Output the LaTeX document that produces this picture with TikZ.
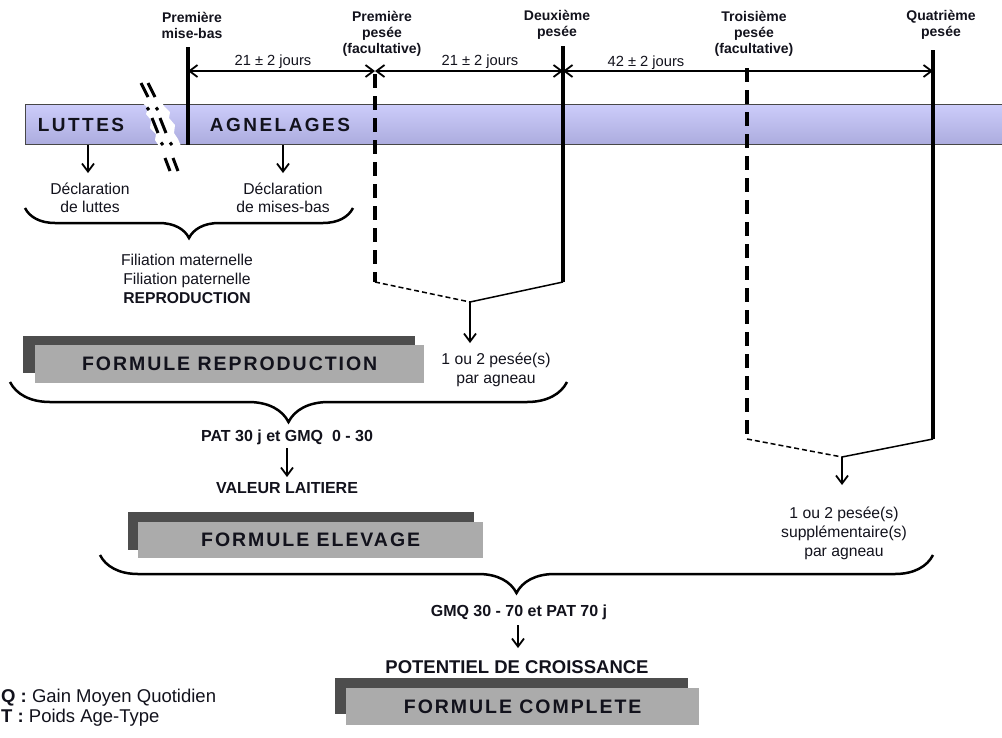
\documentclass[tikz,border=0pt]{standalone}
\usepackage{fontspec}
\setmainfont{Liberation Sans}
\newfontfamily\formfont{Liberation Sans}[LetterSpace=10]
\newfontfamily\bandfont{Liberation Sans}[LetterSpace=13]
\usetikzlibrary{arrows.meta,decorations.pathreplacing}

\definecolor{bandtop}{RGB}{204,204,250}
\definecolor{bandbot}{RGB}{172,172,222}
\definecolor{shadowgrey}{RGB}{77,77,77}
\definecolor{boxgrey}{RGB}{171,171,171}
\definecolor{ink}{RGB}{18,18,28}

\tikzset{
  lbl/.style={inner sep=1pt, align=center, text=ink},
  toplbl/.style={lbl, font=\fontsize{14}{16}\selectfont\bfseries},
  dimlbl/.style={lbl, font=\fontsize{14.7}{17}\selectfont},
  notelbl/.style={lbl, font=\fontsize{15.7}{19}\selectfont},
  keylbl/.style={lbl, font=\fontsize{16}{19}\selectfont\bfseries},
  potlbl/.style={lbl, font=\fontsize{18.5}{20}\selectfont\bfseries},
  legendlbl/.style={lbl, align=left, font=\fontsize{18.5}{20}\selectfont},
  bandlbl/.style={lbl, font=\fontsize{19}{20}\selectfont\bandfont\bfseries},
  band/.style={draw=black!72, line width=1.2pt, top color=bandtop,
    bottom color=bandbot, inner sep=0pt},
  shadowbox/.style={fill=shadowgrey, inner sep=0pt},
  formbox/.style={fill=boxgrey, inner sep=0pt, text=ink,
    font=\fontsize{19.5}{20}\selectfont\formfont\bfseries},
  milestone/.style={line width=3.4pt},
  optmilestone/.style={line width=3.6pt, dash pattern=on 14pt off 8pt},
  joinline/.style={line width=1.5pt},
  joindash/.style={line width=1.5pt, dash pattern=on 5pt off 3pt},
  barb/.tip={Straight Barb[length=8pt, width=12pt, line width=1.8pt]},
  dimline/.style={line width=1.5pt, {barb}-{barb}},
  downarr/.style={line width=1.3pt, -{barb}},
  bracelbl/.style={decorate, line width=2.5pt,
    decoration={brace, mirror, aspect=0.5, amplitude=#1}},
  breakmark/.style={line width=3pt}
}

\begin{document}
\begin{tikzpicture}[x=1pt,y=-1pt]
\useasboundingbox (0,0) rectangle (1002,737);

% ---------- lambing band ----------
\node[band, anchor=north west, minimum width=1000pt, minimum height=40pt] (band) at (25,104) {};
\node[bandlbl] (luttes) at (81,125) {LUTTES};
\node[bandlbl] (agnel) at (280,125) {AGNELAGES};

% time break across the band
\fill[white] (142,102.5) -- (148,108) -- (146,114) -- (151,120) -- (150,128)
  -- (156,134) -- (155,140) -- (159,146) -- (181,146) -- (178,139) -- (174,133)
  -- (175,125) -- (169,118) -- (170,112) -- (164,106) -- (162,102.5) -- cycle;
\draw[breakmark] (141,83) -- (148,97)  (148,83) -- (155,97);
\draw[breakmark] (147,107.5) -- (149,110)  (156,107.5) -- (158,110);
\draw[breakmark] (152,118) -- (158,133)  (160,118) -- (166,133);
\draw[breakmark] (161,142.5) -- (163,145)  (170,142.5) -- (172,145);
\draw[breakmark] (165,158) -- (170,171)  (173,158) -- (178,171);

% ---------- milestones ----------
\node[toplbl] (mb) at (192,25) {Première\\mise-bas};
\node[toplbl] (p1) at (382,34) {Première\\pesée\\(facultative)};
\node[toplbl] (p2) at (557,25) {Deuxième\\pesée};
\node[toplbl] (p3) at (754,34) {Troisième\\pesée\\(facultative)};
\node[toplbl] (p4) at (941,25) {Quatrième\\pesée};

\coordinate (mbTop) at (188,47);   \coordinate (mbBot) at (188,145);
\coordinate (p1Top) at (375,74);   \coordinate (p1Bot) at (375,282);
\coordinate (p2Top) at (563,46);   \coordinate (p2Bot) at (563,282);
\coordinate (p3Top) at (747,68);   \coordinate (p3Bot) at (747,439);
\coordinate (p4Top) at (933,50);   \coordinate (p4Bot) at (933,439);

\draw[milestone] (mbTop) -- (mbBot);
\draw[optmilestone] (p1Top) -- (p1Bot);
\draw[milestone] (p2Top) -- (p2Bot);
\draw[optmilestone] (p3Top) -- (p3Bot);
\draw[milestone] (p4Top) -- (p4Bot);

% intervals
\coordinate (mbA) at (188,71);
\coordinate (p1A) at (375,71);
\coordinate (p2A) at (563,71);
\coordinate (p4A) at (933,71);
\draw[dimline] (mbA) -- (p1A);
\draw[dimline] (p1A) -- (p2A);
\draw[dimline] (p2A) -- (p4A);
\node[dimlbl] (d1) at (273,62) {21 ± 2 jours};
\node[dimlbl] (d2) at (480,62) {21 ± 2 jours};
\node[dimlbl] (d3) at (646,63) {42 ± 2 jours};

% ---------- declarations ----------
\node[notelbl, font=\fontsize{15.7}{18}\selectfont] (declL) at (90,198) {Déclaration\\de luttes};
\node[notelbl, font=\fontsize{15.7}{18}\selectfont] (declM) at (283,198) {Déclaration\\de mises-bas};
\coordinate (declLa) at (88,173);
\coordinate (declMa) at (283,173);
\draw[downarr] (declLa |- band.south) -- (declLa);
\draw[downarr] (declMa |- band.south) -- (declMa);

\draw[bracelbl=30pt] (25,208) -- (353,208);

\node[notelbl] (filiation) at (187,279)
  {Filiation maternelle\\Filiation paternelle\\\textbf{REPRODUCTION}};

% ---------- first weighings ----------
\coordinate (j1) at (470,302);
\coordinate (j1a) at (470,343);
\draw[joindash] (p1Bot) -- (j1);
\draw[joinline] (p2Bot) -- (j1);
\draw[downarr] (j1) -- (j1a);
\node[notelbl] (pes1) at (496,370) {1 ou 2 pesée(s)\\par agneau};

\node[shadowbox, anchor=north west, minimum width=392pt, minimum height=37pt] (reproS) at (23,336) {};
\node[formbox, anchor=north west, minimum width=389pt, minimum height=38pt] (repro) at (35,345) {FORMULE REPRODUCTION};

\draw[bracelbl=40pt] (10,382) -- (567,382);

\node[keylbl] (pat30) at (287,437) {PAT 30 j et GMQ \ 0 - 30};
\node[keylbl] (lait) at (287,488) {VALEUR LAITIERE};
\coordinate (pat30a) at (287,448);
\coordinate (laita) at (287,477);
\draw[downarr] (pat30a) -- (laita);

\node[shadowbox, anchor=north west, minimum width=346pt, minimum height=38pt] (elevS) at (128,512) {};
\node[formbox, anchor=north west, minimum width=345pt, minimum height=36pt] (elev) at (138,522) {FORMULE ELEVAGE};

% ---------- later weighings ----------
\coordinate (j2) at (842,457);
\coordinate (j2a) at (842,485);
\draw[joindash] (p3Bot) -- (j2);
\draw[joinline] (p4Bot) -- (j2);
\draw[downarr] (j2) -- (j2a);
\node[notelbl] (pes2) at (844,533) {1 ou 2 pesée(s)\\supplémentaire(s)\\par agneau};

\draw[bracelbl=38pt] (100,555) -- (933,555);

\node[keylbl] (gmq) at (519,612) {GMQ 30 - 70 et PAT 70 j};
\coordinate (gmqa) at (518,625);
\coordinate (pota) at (518,648);
\draw[downarr] (gmqa) -- (pota);
\node[potlbl] (pot) at (517,667) {POTENTIEL DE CROISSANCE};

\node[shadowbox, anchor=north west, minimum width=353pt, minimum height=36pt] (compS) at (335,678) {};
\node[formbox, anchor=north west, minimum width=353pt, minimum height=37pt] (comp) at (346,688) {FORMULE COMPLETE};

% ---------- key ----------
\node[legendlbl, anchor=west] (key1) at (0,698) {\textbf{Q :} Gain Moyen Quotidien};
\node[legendlbl, anchor=west] (key2) at (0,718) {\textbf{T :} Poids Age-Type};
\end{tikzpicture}
\end{document}
